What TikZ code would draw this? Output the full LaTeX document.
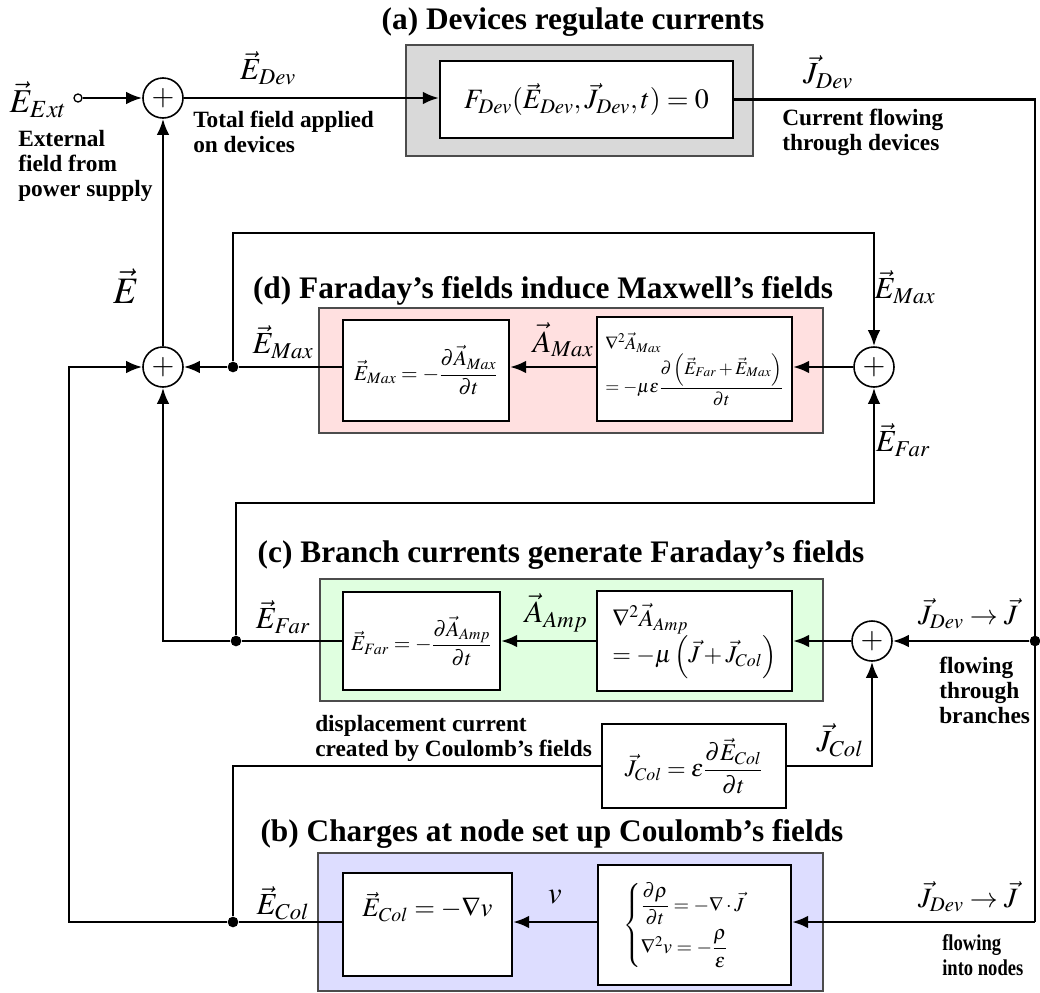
\documentclass[tikz,border=0pt]{standalone}
\usepackage{amsmath}
\usepackage{mathptmx}
\usepackage{fontspec}
\setmainfont{Liberation Serif}
\newfontfamily\narrowserif{Liberation Serif}[FakeStretch=0.82]
\usetikzlibrary{arrows.meta}
\definecolor{panelgray}{RGB}{217,217,217}
\definecolor{panelpink}{RGB}{255,224,224}
\definecolor{panelgreen}{RGB}{224,255,224}
\definecolor{panelblue}{RGB}{221,221,255}
\tikzset{
  wire/.style={line width=1.9pt},
  eqbox/.style={draw,line width=1.7pt,fill=white,inner sep=0pt},
  panel/.style={draw=black!70,line width=1pt},
  sum/.style={draw,circle,line width=1.2pt,minimum size=30pt,inner sep=0pt,fill=white,font=\fontsize{22}{22}\selectfont},
  dot/.style={circle,fill,inner sep=0pt,minimum size=8pt},
  note/.style={font=\bfseries\fontsize{17.5}{18.8}\selectfont,align=left,anchor=west,inner sep=0pt},
  title/.style={font=\bfseries\fontsize{23.5}{26}\selectfont},
  lbl/.style={font=\fontsize{23}{25}\selectfont,inner sep=0pt},
}
\begin{document}
\begin{tikzpicture}[x=0.75pt,y=-0.75pt,>={Latex[length=12pt,width=9.5pt]}]
    \useasboundingbox (0,0) rectangle (1040,993);
    % coloured panels
    \draw[panel,fill=panelgray] (406,45) rectangle (753,156);
    \draw[panel,fill=panelpink] (319,308) rectangle (823,433);
    \draw[panel,fill=panelgreen] (320,579) rectangle (823,701);
    \draw[panel,fill=panelblue] (318,853) rectangle (823,991);
    \node[title] (ta) at (573,22) {(a) Devices regulate currents};
    \node[title] (td) at (543,291) {(d) Faraday's fields induce Maxwell's fields};
    \node[title] (tc) at (561,555) {(c) Branch currents generate Faraday's fields};
    \node[title] (tb) at (552,834) {(b) Charges at node set up Coulomb's fields};
    % equation boxes
    \node[eqbox,minimum width=219.75pt,minimum height=57.75pt,font=\fontsize{21}{23}\selectfont] (fa) at (586.5,99.5) {$F_{Dev}(\vec{E}_{Dev},\vec{J}_{Dev},t)=0$};
    \node[eqbox,minimum width=124.5pt,minimum height=75.75pt,font=\fontsize{16}{18}\selectfont] (d1) at (426,370.5) {$\vec{E}_{Max}=-\dfrac{\partial\vec{A}_{Max}}{\partial t}$};
    \node[eqbox,minimum width=146.25pt,minimum height=78pt,font=\fontsize{13.5}{17}\selectfont,align=left] (d2) at (694.5,369) {$\nabla^{2}\vec{A}_{Max}$\\[0pt]$=-\mu\varepsilon\dfrac{\partial\left(\vec{E}_{Far}+\vec{E}_{Max}\right)}{\partial t}$};
    \node[eqbox,minimum width=117.75pt,minimum height=73.5pt,font=\fontsize{16}{18}\selectfont] (c1) at (421.5,641) {$\vec{E}_{Far}=-\dfrac{\partial\vec{A}_{Amp}}{\partial t}$};
    \node[eqbox,minimum width=146.25pt,minimum height=75pt,font=\fontsize{18}{25}\selectfont,align=left] (c2) at (694.5,641) {$\nabla^{2}\vec{A}_{Amp}$\\$=-\mu\left(\vec{J}+\vec{J}_{Col}\right)$};
    \node[eqbox,minimum width=138pt,minimum height=63pt,font=\fontsize{18}{20}\selectfont] (jcol) at (694,766) {$\vec{J}_{Col}=\varepsilon\dfrac{\partial\vec{E}_{Col}}{\partial t}$};
    \node[eqbox,minimum width=126.75pt,minimum height=77.25pt,text depth=30pt,font=\fontsize{20}{22}\selectfont] (b1) at (427.5,924.5) {$\vec{E}_{Col}=-\nabla v$};
    \node[eqbox,minimum width=144.75pt,minimum height=90pt,font=\fontsize{15}{17}\selectfont] (b2) at (694.5,925) {$\begin{cases}\dfrac{\partial\rho}{\partial t}=-\nabla\cdot\vec{J}\\[8pt]\nabla^{2}v=-\dfrac{\rho}{\varepsilon}\end{cases}$};
    % summing points, taps and corners
    \node[sum] (s1) at (163,98) {$+$};
    \node[sum] (s2) at (163,367) {$+$};
    \node[sum] (s3) at (874,367) {$+$};
    \node[sum] (s4) at (872,641) {$+$};
    \node[draw,circle,fill=white,line width=1pt,inner sep=0pt,minimum size=6pt] (ext) at (78,98) {};
    \node[dot] (jm) at (233,367) {};
    \node[dot] (jf) at (236,641) {};
    \node[dot] (jc) at (233,922) {};
    \node[dot] (jb) at (1035,641) {};
    \coordinate (rb) at (1035,922);
    \coordinate (mtop) at (233,233);
    \coordinate (ftop) at (236,503);
    \coordinate (cl) at (69,922);
    % connectors
    \draw[wire,->] (ext) -- (s1);
    \draw[wire,->] (s1) -- (s1 -| fa.west);
    \draw[wire] (fa.east) -| (rb);
    \draw[wire,->] (rb) -- (rb -| b2.east);
    \draw[wire,->] (b2.west |- rb) -- (b1.east |- rb);
    \draw[wire] (b1.west |- rb) -- (jc);
    \draw[wire,->] (jc) -- (cl) |- (s2);
    \draw[wire] (jc) |- (jcol.west);
    \draw[wire,->] (jcol.east) -| (s4);
    \draw[wire,->] (jb) -- (s4);
    \draw[wire,->] (s4) -- (s4 -| c2.east);
    \draw[wire,->] (c2.west |- s4) -- (c1.east |- s4);
    \draw[wire] (c1.west |- jf) -- (jf);
    \draw[wire,->] (jf) -| (s2);
    \draw[wire,->] (jf) -- (ftop) -| (s3);
    \draw[wire,->] (s3) -- (s3 -| d2.east);
    \draw[wire,->] (d2.west |- s3) -- (d1.east |- s3);
    \draw[wire] (d1.west |- s3) -- (jm);
    \draw[wire,->] (jm) -- (s2);
    \draw[wire,->] (jm) -- (mtop) -| (s3);
    \draw[wire,->] (s2) -- (s1);
    % signal labels
    \node[lbl,font=\fontsize{25}{27}\selectfont] (lext) at (38,100) {$\vec{E}_{Ext}$};
    \node[lbl] (ldev) at (268,68) {$\vec{E}_{Dev}$};
    \node[lbl] (ljdev) at (828,72) {$\vec{J}_{Dev}$};
    \node[lbl,font=\fontsize{28}{30}\selectfont] (le) at (126,286) {$\vec{E}$};
    \node[lbl] (lmax) at (283,342) {$\vec{E}_{Max}$};
    \node[lbl] (lmaxr) at (905,287) {$\vec{E}_{Max}$};
    \node[lbl] (lamax) at (563,340) {$\vec{A}_{Max}$};
    \node[lbl] (lfarr) at (903,440) {$\vec{E}_{Far}$};
    \node[lbl] (lfar) at (283,617) {$\vec{E}_{Far}$};
    \node[lbl] (laamp) at (556,613) {$\vec{A}_{Amp}$};
    \node[lbl,font=\fontsize{21}{23}\selectfont] (ljbr) at (968,614) {$\vec{J}_{Dev}\rightarrow\vec{J}$};
    \node[lbl] (ljcol) at (840,740) {$\vec{J}_{Col}$};
    \node[lbl] (lcol) at (283,903) {$\vec{E}_{Col}$};
    \node[lbl] (lv) at (555,897) {$v$};
    \node[lbl,font=\fontsize{21}{23}\selectfont] (ljnd) at (968,897) {$\vec{J}_{Dev}\rightarrow\vec{J}$};
    % notes
    \node[note] (next) at (18,166) {External\\field from\\power supply};
    \node[note] (ntot) at (193,132) {Total field applied\\on devices};
    \node[note] (ncur) at (782,132) {Current flowing\\through devices};
    \node[note] (nbr) at (939,690) {flowing\\through\\branches};
    \node[note] (ndis) at (315,738) {displacement current\\created by Coulomb's fields};
    \node[note,font=\narrowserif\bfseries\fontsize{17}{18.8}\selectfont] (nnd) at (942,955) {flowing\\into nodes};
\end{tikzpicture}
\end{document}
